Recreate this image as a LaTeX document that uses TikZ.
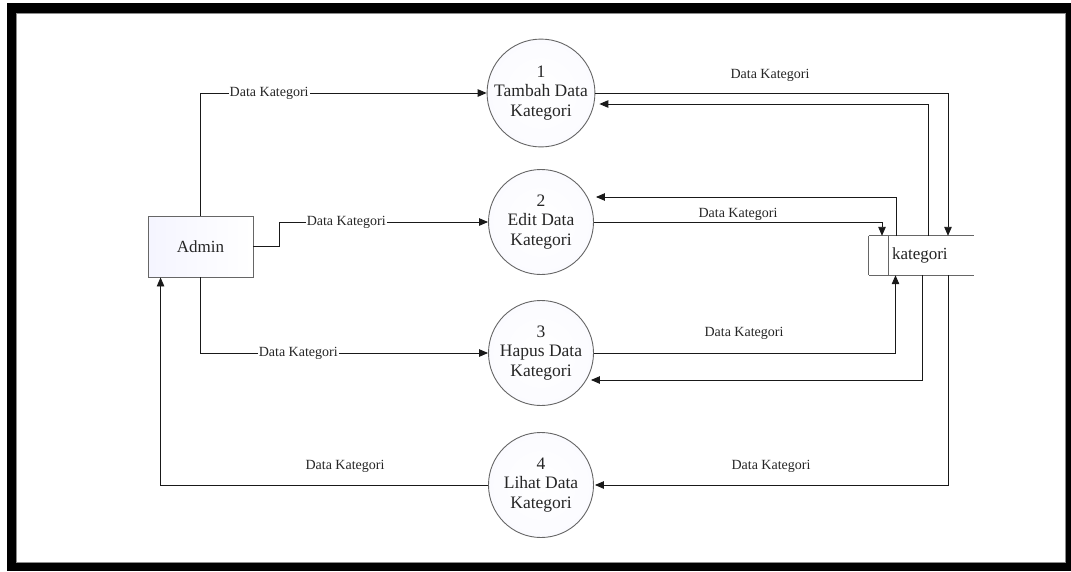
\documentclass[tikz,border=0pt]{standalone}
\usepackage{fontspec}
\setmainfont{Liberation Serif}
\usetikzlibrary{arrows.meta,calc}
\begin{document}
\begin{tikzpicture}[x=1pt,y=-1pt,
  flow/.style={draw=black!90, line width=0.9pt, -{Triangle[length=9pt,width=7.5pt]}},
  proc/.style={circle, draw=black!60, line width=0.9pt, minimum size=105pt, inner sep=0pt,
    inner color=white, outer color=blue!1.5!white, align=center,
    font=\fontsize{17.5}{19.5}\selectfont, text=black!85},
  ent/.style={rectangle, draw=black!60, line width=0.9pt, minimum width=105pt, minimum height=61pt,
    left color=blue!4!white, right color=white, font=\fontsize{17}{20}\selectfont, text=black!85},
  storeline/.style={draw=black!60, line width=0.9pt},
  lbl/.style={font=\fontsize{14}{16}\selectfont, text=black!85, inner sep=1pt},
  onl/.style={lbl, fill=white},
]
\useasboundingbox (0,0) rectangle (1071,571);
\fill[white] (0,0) rectangle (1071,571);
\fill[black] (7,3) rectangle (1071,571);
\fill[white] (16,13) rectangle (1066,563);
\draw[black!45, line width=1.5pt] (16.5,13.5) rectangle (1065.5,562.5);

% nodes
\node[ent] (admin) at (200.5,246.5) {Admin};
\node[proc] (c1) at (541,93) {1\\Tambah Data\\Kategori};
\node[proc] (c2) at (541,222) {2\\Edit Data\\Kategori};
\node[proc] (c3) at (541,353) {3\\Hapus Data\\Kategori};
\node[proc] (c4) at (541,485) {4\\Lihat Data\\Kategori};

% data store
\node[minimum width=105pt, minimum height=39pt, inner sep=0pt] (kat) at (921.5,255.5) {};
\draw[storeline] (kat.north west) -- (kat.north east);
\draw[storeline] (kat.south west) -- (kat.south east);
\draw[storeline] (kat.north west) -- (kat.south west);
\draw[storeline] ($(kat.north west)+(20,0)$) -- ($(kat.south west)+(20,0)$);
\node[font=\fontsize{17}{20}\selectfont, text=black!85, anchor=west, inner sep=0pt] (katlbl) at ($(kat.west)+(23,0)$) {kategori};

% left connectors
\draw[flow] (admin.north) |- (c1.west) node[onl, pos=0.62] {Data Kategori};
\draw[flow] (admin.east) -- ++(26,0) |- (c2.west) node[onl, pos=0.66] {Data Kategori};
\draw[flow] (admin.south) |- (c3.west) node[onl, pos=0.67] {Data Kategori};
\draw[flow] (c4.west) -| ($(admin.south west)+(13,0)$);
\node[lbl] (l4a) at (345,466) {Data Kategori};

% right connectors
\draw[flow] (c1.east) -| ($(kat.north)+(26.5,0)$);
\node[lbl] (l1b) at (770,75) {Data Kategori};
\draw[flow] ($(kat.north)+(6.5,0)$) |- ($(c1.east)+(4,11)$);
\draw[flow] ($(kat.north)+(-25.5,0)$) |- ($(c2.east)+(2,-25)$);
\draw[flow] (c2.east) -| ($(kat.north)+(-39.5,0)$);
\node[lbl] (l2b) at (738,214) {Data Kategori};
\draw[flow] (c3.east) -| ($(kat.south)+(-26,0)$);
\node[lbl] (l3b) at (744,333) {Data Kategori};
\draw[flow] ($(kat.south)+(0.5,0)$) |- ($(c3.east)+(-3,27)$);
\draw[flow] ($(kat.south)+(26.5,0)$) |- ($(c4.east)+(1,0)$);
\node[lbl] (l4b) at (771,466) {Data Kategori};
\end{tikzpicture}
\end{document}
